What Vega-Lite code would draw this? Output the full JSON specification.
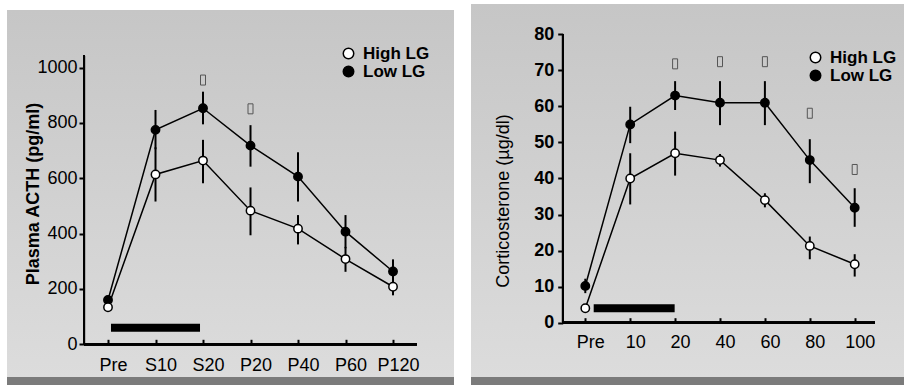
{
  "$schema": "https://vega.github.io/schema/vega-lite/v6.json",
  "padding": {"left": 7, "top": 4, "right": 0, "bottom": 0},
  "background": "white",
  "spacing": 17,
  "config": {"view": {"stroke": null}, "font": "Liberation Sans"},
  "resolve": {"scale": {"fill": "independent"}, "legend": {"fill": "independent"}},
  "datasets": {
    "acth": [
      {"i": 0, "t": "Pre", "group": "Low LG", "v": 160, "lo": 145, "hi": 175},
      {"i": 1, "t": "S10", "group": "Low LG", "v": 775, "lo": 705, "hi": 847},
      {"i": 2, "t": "S20", "group": "Low LG", "v": 853, "lo": 795, "hi": 913},
      {"i": 3, "t": "P20", "group": "Low LG", "v": 718, "lo": 642, "hi": 792},
      {"i": 4, "t": "P40", "group": "Low LG", "v": 606, "lo": 516, "hi": 694},
      {"i": 5, "t": "P60", "group": "Low LG", "v": 407, "lo": 347, "hi": 467},
      {"i": 6, "t": "P120", "group": "Low LG", "v": 263, "lo": 220, "hi": 307},
      {"i": 0, "t": "Pre", "group": "High LG", "v": 134, "lo": 122, "hi": 146},
      {"i": 1, "t": "S10", "group": "High LG", "v": 614, "lo": 516, "hi": 712},
      {"i": 2, "t": "S20", "group": "High LG", "v": 664, "lo": 582, "hi": 739},
      {"i": 3, "t": "P20", "group": "High LG", "v": 483, "lo": 394, "hi": 567},
      {"i": 4, "t": "P40", "group": "High LG", "v": 418, "lo": 361, "hi": 467},
      {"i": 5, "t": "P60", "group": "High LG", "v": 308, "lo": 262, "hi": 352},
      {"i": 6, "t": "P120", "group": "High LG", "v": 208, "lo": 177, "hi": 240}
    ],
    "cort": [
      {"i": 0, "t": "Pre", "group": "Low LG", "v": 10.2, "lo": 8.2, "hi": 12.2},
      {"i": 1, "t": "10", "group": "Low LG", "v": 55.0, "lo": 49.8, "hi": 59.9},
      {"i": 2, "t": "20", "group": "Low LG", "v": 63.0, "lo": 59.0, "hi": 67.0},
      {"i": 3, "t": "40", "group": "Low LG", "v": 61.0, "lo": 54.8, "hi": 67.0},
      {"i": 4, "t": "60", "group": "Low LG", "v": 61.0, "lo": 54.8, "hi": 67.0},
      {"i": 5, "t": "80", "group": "Low LG", "v": 45.1, "lo": 38.7, "hi": 50.9},
      {"i": 6, "t": "100", "group": "Low LG", "v": 31.9, "lo": 26.6, "hi": 37.3},
      {"i": 0, "t": "Pre", "group": "High LG", "v": 4.0, "lo": 3.0, "hi": 5.0},
      {"i": 1, "t": "10", "group": "High LG", "v": 40.0, "lo": 32.8, "hi": 47.0},
      {"i": 2, "t": "20", "group": "High LG", "v": 47.0, "lo": 40.8, "hi": 53.0},
      {"i": 3, "t": "40", "group": "High LG", "v": 45.1, "lo": 43.3, "hi": 46.8},
      {"i": 4, "t": "60", "group": "High LG", "v": 34.0, "lo": 32.0, "hi": 35.9},
      {"i": 5, "t": "80", "group": "High LG", "v": 21.3, "lo": 17.6, "hi": 23.9},
      {"i": 6, "t": "100", "group": "High LG", "v": 16.2, "lo": 12.8, "hi": 19.0}
    ],
    "acthStars": [
      {"i": 2, "y": 955},
      {"i": 3, "y": 851}
    ],
    "cortStars": [
      {"i": 2, "y": 71.8},
      {"i": 3, "y": 72.4},
      {"i": 4, "y": 72.4},
      {"i": 5, "y": 58.1},
      {"i": 6, "y": 42.5}
    ],
    "acthStress": [{"start": 0.063, "end": 1.937, "y": 60}],
    "cortStress": [{"start": 0.187, "end": 1.99, "y": 4.0}]
  },
  "hconcat": [
    {
      "width": 447,
      "height": 381,
      "data": {"name": "acth"},
      "layer": [
        {
          "data": {"values": [{}]},
          "mark": {"type": "rect", "fill": {"gradient": "linear", "x1": 0, "y1": 0, "x2": 0, "y2": 1, "stops": [
            {"offset": 0, "color": "#ffffff"}, {"offset": 0.0157, "color": "#ffffff"},
            {"offset": 0.0158, "color": "#c6c6c6"}, {"offset": 0.979, "color": "#dcdcdc"},
            {"offset": 0.98, "color": "#7b7b7b"}, {"offset": 1, "color": "#7b7b7b"}]}},
          "encoding": {}
        },
        {
          "mark": {"type": "line", "stroke": "black", "strokeWidth": 1.5},
          "encoding": {
            "x": {"field": "i", "type": "quantitative",
              "scale": {"domain": [-2.1263, 7.284], "nice": false, "zero": false},
              "axis": {"values": [0, 1, 2, 3, 4, 5, 6], "labelExpr": "['Pre','S10','S20','P20','P40','P60','P120'][datum.value]",
                "offset": -40.7, "domain": false, "grid": false, "tickSize": -5, "tickWidth": 2, "tickColor": "black",
                "labelFontSize": 18, "labelColor": "black", "labelPadding": 17, "labelOffset": 5, "title": null,
                "zindex": 1, "labelFlush": false, "labelOverlap": false}},
            "y": {"field": "v", "type": "quantitative",
              "scale": {"domain": [-147.1, 1229.9], "nice": false, "zero": false},
              "axis": {"values": [0, 200, 400, 600, 800, 1000], "format": "d", "offset": -77, "domain": false, "grid": false,
                "tickSize": 5, "tickWidth": 2, "tickColor": "black", "labelFontSize": 18, "labelColor": "black", "labelPadding": 2,
                "title": "Plasma ACTH (pg/ml)", "titleFontSize": 18, "titleFontWeight": "bold", "titleColor": "black",
                "titleX": -46, "titleY": 189.5, "titleBaseline": "alphabetic", "zindex": 1, "labelFlush": false, "labelOverlap": false}},
            "detail": {"field": "group"},
            "order": {"field": "i"}
          }
        },
        {
          "mark": {"type": "rule", "stroke": "black", "strokeWidth": 2},
          "encoding": {"x": {"datum": -0.505}, "y": {"datum": 0}, "y2": {"datum": 1045}}
        },
        {
          "mark": {"type": "rule", "stroke": "black", "strokeWidth": 2},
          "encoding": {"y": {"datum": 0}, "x": {"datum": -0.505}, "x2": {"datum": 6.5}}
        },
        {
          "data": {"name": "acthStress"},
          "mark": {"type": "rule", "stroke": "black", "strokeWidth": 8},
          "encoding": {"x": {"field": "start", "type": "quantitative"}, "x2": {"field": "end"}, "y": {"field": "y", "type": "quantitative"}}
        },
        {
          "mark": {"type": "rule", "stroke": "black", "strokeWidth": 2},
          "encoding": {"x": {"field": "i", "type": "quantitative"}, "y": {"field": "lo", "type": "quantitative"}, "y2": {"field": "hi"}}
        },
        {
          "mark": {"type": "point", "shape": "circle", "filled": true, "size": 70, "stroke": "black", "strokeWidth": 1.5, "opacity": 1},
          "encoding": {
            "x": {"field": "i", "type": "quantitative"},
            "y": {"field": "v", "type": "quantitative"},
            "fill": {"field": "group", "type": "nominal",
              "scale": {"domain": ["High LG", "Low LG"], "range": ["white", "black"]},
              "legend": {"orient": "none", "legendX": 333, "legendY": 41, "title": null, "padding": 0,
                "labelFontSize": 17, "labelFontWeight": "bold", "labelColor": "black", "labelOffset": 6,
                "symbolType": "circle", "symbolSize": 110, "symbolStrokeColor": "black", "symbolStrokeWidth": 1.5,
                "symbolOpacity": 1, "rowPadding": 0}}
          }
        },
        {
          "data": {"name": "acthStars"},
          "mark": {"type": "point", "shape": "M-0.5,-1H0.5V1H-0.5Z", "filled": false, "size": 100, "stroke": "#555555", "strokeWidth": 1, "opacity": 1},
          "encoding": {"x": {"field": "i", "type": "quantitative"}, "y": {"field": "y", "type": "quantitative"}}
        }
      ]
    },
    {
      "width": 433,
      "height": 381,
      "data": {"name": "cort"},
      "layer": [
        {
          "data": {"values": [{}]},
          "mark": {"type": "rect", "fill": {"gradient": "linear", "x1": 0, "y1": 0, "x2": 0, "y2": 1, "stops": [
            {"offset": 0, "color": "#c6c6c6"}, {"offset": 0.979, "color": "#dcdcdc"},
            {"offset": 0.98, "color": "#7b7b7b"}, {"offset": 1, "color": "#7b7b7b"}]}},
          "encoding": {}
        },
        {
          "mark": {"type": "line", "stroke": "black", "strokeWidth": 1.5},
          "encoding": {
            "x": {"field": "i", "type": "quantitative",
              "scale": {"domain": [-2.5457, 7.098], "nice": false, "zero": false},
              "axis": {"values": [0, 1, 2, 3, 4, 5, 6], "labelExpr": "['Pre','10','20','40','60','80','100'][datum.value]",
                "offset": -62.3, "domain": false, "grid": false, "tickSize": -5, "tickWidth": 2, "tickColor": "black",
                "labelFontSize": 18, "labelColor": "black", "labelPadding": 16, "labelOffset": 5, "title": null,
                "zindex": 1, "labelFlush": false, "labelOverlap": false}},
            "y": {"field": "v", "type": "quantitative",
              "scale": {"domain": [-17.28, 88.4], "nice": false, "zero": false},
              "axis": {"values": [0, 10, 20, 30, 40, 50, 60, 70, 80], "format": "d", "offset": -91.7, "domain": false, "grid": false,
                "tickSize": 5, "tickWidth": 2, "tickColor": "black", "labelFontSize": 18, "labelFontWeight": "bold", "labelColor": "black", "labelPadding": 4,
                "title": "Corticosterone (µg/dl)", "titleFontSize": 18, "titleFontWeight": "normal", "titleColor": "black",
                "titleX": -54.7, "titleY": 196.5, "titleBaseline": "alphabetic", "zindex": 1, "labelFlush": false, "labelOverlap": false}},
            "detail": {"field": "group"},
            "order": {"field": "i"}
          }
        },
        {
          "mark": {"type": "rule", "stroke": "black", "strokeWidth": 2},
          "encoding": {"x": {"datum": -0.497}, "y": {"datum": 0}, "y2": {"datum": 80}}
        },
        {
          "mark": {"type": "rule", "stroke": "black", "strokeWidth": 2},
          "encoding": {"y": {"datum": 0}, "x": {"datum": -0.497}, "x2": {"datum": 6.45}}
        },
        {
          "data": {"name": "cortStress"},
          "mark": {"type": "rule", "stroke": "black", "strokeWidth": 8},
          "encoding": {"x": {"field": "start", "type": "quantitative"}, "x2": {"field": "end"}, "y": {"field": "y", "type": "quantitative"}}
        },
        {
          "mark": {"type": "rule", "stroke": "black", "strokeWidth": 2},
          "encoding": {"x": {"field": "i", "type": "quantitative"}, "y": {"field": "lo", "type": "quantitative"}, "y2": {"field": "hi"}}
        },
        {
          "mark": {"type": "point", "shape": "circle", "filled": true, "size": 70, "stroke": "black", "strokeWidth": 1.5, "opacity": 1},
          "encoding": {
            "x": {"field": "i", "type": "quantitative"},
            "y": {"field": "v", "type": "quantitative"},
            "fill": {"field": "group", "type": "nominal",
              "scale": {"domain": ["High LG", "Low LG"], "range": ["white", "black"]},
              "legend": {"orient": "none", "legendX": 336, "legendY": 45, "title": null, "padding": 0,
                "labelFontSize": 17, "labelFontWeight": "bold", "labelColor": "black", "labelOffset": 6,
                "symbolType": "circle", "symbolSize": 110, "symbolStrokeColor": "black", "symbolStrokeWidth": 1.5,
                "symbolOpacity": 1, "rowPadding": 0}}
          }
        },
        {
          "data": {"name": "cortStars"},
          "mark": {"type": "point", "shape": "M-0.5,-1H0.5V1H-0.5Z", "filled": false, "size": 100, "stroke": "#555555", "strokeWidth": 1, "opacity": 1},
          "encoding": {"x": {"field": "i", "type": "quantitative"}, "y": {"field": "y", "type": "quantitative"}}
        }
      ]
    }
  ]
}
